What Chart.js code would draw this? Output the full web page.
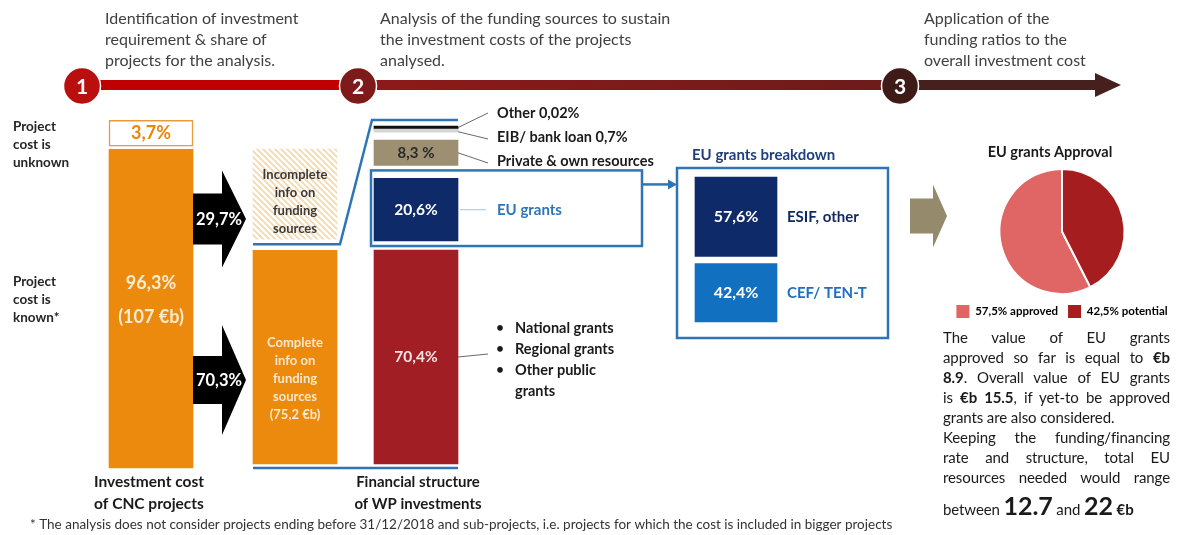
<!DOCTYPE html>
<html>
<head>
<title>CNC projects - investment cost and funding structure</title>
<script src="https://cdn.jsdelivr.net/npm/chart.js"></script>
<style>
    body { margin: 0; background: #fff; font-family: Lato, sans-serif; }
    #wrap { position: relative; width: 1178px; height: 535px; overflow: hidden; }
    #main { position: absolute; left: 0; top: 0; }
    #pie { position: absolute; left: 942px; top: 166px; }
    .note { position: absolute; left: 943px; top: 327px; width: 227px; font-size: 15px; line-height: 20px; color: #1a1a1a; letter-spacing: -0.1px; }
    .note span { display: block; white-space: nowrap; text-align: justify; text-align-last: justify; }
    .note span.end { text-align-last: left; }
    .note span.tight { word-spacing: -1.5px; }
    .note span.last { line-height: 30px; margin-top: 3px; }
    .big { font-size: 25px; font-weight: bold; }
</style>
</head>
<body>
<div id="wrap">
    <canvas id="main" width="1178" height="535"></canvas>
    <canvas id="pie" width="240" height="162"></canvas>
    <div class="note">
        <span>The value of EU grants</span>
        <span>approved so far is equal to <b>€b</b></span>
        <span><b>8.9</b>. Overall value of EU grants</span>
        <span class="tight">is <b>€b 15.5</b>, if yet-to be approved</span>
        <span class="end">grants are also considered.</span>
        <span>Keeping the funding/financing</span>
        <span>rate and structure, total EU</span>
        <span>resources needed would range</span>
        <span class="end last">between <span class="big" style="display:inline">12.7</span> and <span class="big" style="display:inline">22</span> <b>€b</b></span>
    </div>
</div>

<script>
    // shares in %
    const costStatus = ['Project cost is known', 'Project cost is unknown'];
    const costShare = [96.3, 3.7];
    const infoStatus = ['Complete info', 'Incomplete info'];
    const infoShare = [70.3, 29.7];
    const wpSources = ['Public grants', 'EU grants', 'Private & own resources', 'EIB/ bank loan', 'Other'];
    const wpShare = [70.4, 20.6, 8.3, 0.7, 0.02];
    const euSources = ['CEF/ TEN-T', 'ESIF, other'];
    const euShare = [42.4, 57.6];
    const approvalLabels = ['approved', 'potential'];
    const approvalShare = [57.5, 42.5];
    const knownCost = '107';   // €b
    const completeCost = '75,2'; // €b

    const H = 535;
    const pct = (v, sp = '') => String(v).replace('.', ',') + sp + '%';
    const F = (size, bold) => (bold ? 'bold ' : '') + size + 'px Lato, sans-serif';

    // column placement (layout only)
    const cols = {
        cost: { x: 151, width: 84, bottom: 468, top: 134, gap: [3] },
        info: { x: 295, width: 84, bottom: 464, top: 149, gap: [11] },
        wp:   { x: 416, width: 84, bottom: 464, top: 129, gap: [9, 13, 8, 1] },
        eu:   { x: 736, width: 82, bottom: 322, top: 177, gap: [7] }
    };

    function hatch() {
        const c = document.createElement('canvas');
        c.width = c.height = 6;
        const g = c.getContext('2d');
        g.fillStyle = '#fff';
        g.fillRect(0, 0, 6, 6);
        g.strokeStyle = '#f6d7ae';
        g.lineWidth = 1.7;
        g.beginPath();
        g.moveTo(-3, 3); g.lineTo(3, 9);
        g.moveTo(0, 0); g.lineTo(6, 6);
        g.moveTo(3, -3); g.lineTo(9, 3);
        g.stroke();
        return g.createPattern(c, 'repeat');
    }

    const datasets = [];
    const scales = { x: { type: 'linear', min: 0, max: 1178, display: false, offset: false } };
    const idx = {};

    // stack segments bottom-up with small white gaps, one hidden y axis per column
    function addColumn(key, names, values, styles) {
        const col = cols[key];
        const sum = values.reduce((a, b) => a + b, 0);
        const gapPx = col.gap.reduce((a, b) => a + b, 0);
        const s = (col.bottom - col.top - gapPx) / sum;
        scales['y' + key] = { axis: 'y', type: 'linear', display: false, min: -(H - col.bottom) / s, max: col.bottom / s };
        let lo = 0;
        values.forEach((v, i) => {
            const st = styles[i] || {};
            idx[names[i]] = datasets.length;
            datasets.push({
                label: names[i],
                data: [{ x: col.x, y: [lo, lo + v] }],
                yAxisID: 'y' + key,
                grouped: false,
                barThickness: col.width,
                backgroundColor: st.color,
                borderColor: st.border || st.color,
                borderWidth: st.border ? 1.5 : 0,
                borderSkipped: false,
                minBarLength: st.minLen || 0,
                inner: st.inner
            });
            lo += v + (col.gap[i] !== undefined ? col.gap[i] : col.gap[0]) / s;
        });
    }

    function build() {
        addColumn('cost', costStatus, costShare, [
            { color: '#eb8a0c', inner: { lines: [pct(costShare[0]), '(' + knownCost + ' €b)'], font: F(18, true), color: '#fdebd2', step: 34, dy: -8 } },
            { color: '#ffffff', border: '#eb9a3a', minLen: 26, inner: { lines: [pct(costShare[1])], font: F(18, true), color: '#e8870a', step: 0, dy: 0 } }
        ]);
        addColumn('info', infoStatus, infoShare, [
            { color: '#eb8a0c', inner: { lines: ['Complete', 'info on', 'funding', 'sources', '(' + completeCost + ' €b)'], font: F(13, true), color: '#fde8cf', step: 18, dy: 22 } },
            { color: hatch(), inner: { lines: ['Incomplete', 'info on', 'funding', 'sources'], font: F(13, true), color: '#3a3a3a', step: 18, dy: 8 } }
        ]);
        addColumn('wp', wpSources, wpShare, [
            { color: '#a11f24', inner: { lines: [pct(wpShare[0])], font: F(15.5, true), color: '#fbe3e3', step: 0, dy: 0 } },
            { color: '#0e2a68', inner: { lines: [pct(wpShare[1])], font: F(15.5, true), color: '#ffffff', step: 0, dy: 0 } },
            { color: '#9c8f72', inner: { lines: [pct(wpShare[2], ' ')], font: F(15, true), color: '#2a2a2a', step: 0, dy: 0 } },
            { color: '#d6d6d6', minLen: 3 },
            { color: '#111111', minLen: 3 }
        ]);
        addColumn('eu', euSources, euShare, [
            { color: '#1170c0', inner: { lines: [pct(euShare[0])], font: F(16, true), color: '#ffffff', step: 0, dy: 0 } },
            { color: '#0e2a68', inner: { lines: [pct(euShare[1])], font: F(16, true), color: '#ffffff', step: 0, dy: 0 } }
        ]);

        const txt = (ctx, s, x, y, font, color, align = 'left', maxW) => {
            ctx.font = font;
            ctx.fillStyle = color;
            ctx.textAlign = align;
            ctx.textBaseline = 'middle';
            if (maxW) ctx.fillText(s, x, y, maxW); else ctx.fillText(s, x, y);
        };

        const barLabels = {
            id: 'barLabels',
            afterDatasetsDraw(chart) {
                const ctx = chart.ctx;
                chart.data.datasets.forEach((ds, i) => {
                    if (!ds.inner) return;
                    const el = chart.getDatasetMeta(i).data[0];
                    const cy = (el.y + el.base) / 2 + ds.inner.dy;
                    const n = ds.inner.lines.length;
                    ds.inner.lines.forEach((l, k) => {
                        txt(ctx, l, el.x, cy + (k - (n - 1) / 2) * ds.inner.step, ds.inner.font, ds.inner.color, 'center');
                    });
                });
            }
        };

        const decor = {
            id: 'decor',
            afterDraw(chart) {
                const ctx = chart.ctx;
                const bar = name => chart.getDatasetMeta(idx[name]).data[0];
                const mid = el => (el.y + el.base) / 2;
                ctx.save();

                // timeline
                ctx.lineWidth = 10;
                const seg = (x0, x1, c) => { ctx.strokeStyle = c; ctx.beginPath(); ctx.moveTo(x0, 85); ctx.lineTo(x1, 85); ctx.stroke(); };
                seg(82, 357, '#c00000');
                const g = ctx.createLinearGradient(357, 0, 900, 0);
                g.addColorStop(0, '#8e1a1a');
                g.addColorStop(1, '#6c1b1b');
                seg(357, 900, g);
                seg(900, 1098, '#45201d');
                ctx.fillStyle = '#45201d';
                ctx.beginPath(); ctx.moveTo(1095, 73); ctx.lineTo(1121, 85); ctx.lineTo(1095, 97); ctx.closePath(); ctx.fill();
                [[82, '#b90f0f', '1'], [358, '#7d1a1a', '2'], [900, '#3f1b18', '3']].forEach(([cx, c, n]) => {
                    ctx.beginPath(); ctx.arc(cx, 86, 18.5, 0, Math.PI * 2);
                    ctx.fillStyle = c; ctx.fill();
                    ctx.lineWidth = 1.5; ctx.strokeStyle = '#fff'; ctx.stroke();
                    txt(ctx, n, cx, 87, F(21, true), '#fff', 'center');
                });
                const steps = [
                    [105, ['Identification of investment', 'requirement & share of', 'projects for the analysis.']],
                    [380, ['Analysis of the funding sources to sustain', 'the investment costs of the projects', 'analysed.']],
                    [924, ['Application of the', 'funding ratios to the', 'overall investment cost']]
                ];
                steps.forEach(([x, lines]) => lines.forEach((l, k) => txt(ctx, l, x, 19 + k * 21, F(16), '#404040')));

                // row labels
                ['Project', 'cost is', 'unknown'].forEach((l, k) => txt(ctx, l, 13, 127 + k * 18, F(13.5, true), '#262626'));
                ['Project', 'cost is', 'known*'].forEach((l, k) => txt(ctx, l, 13, 282 + k * 18, F(13.5, true), '#262626'));

                // block arrows
                const arrow = (x0, x1, xh, yc, sh, hh, c) => {
                    ctx.fillStyle = c;
                    ctx.beginPath();
                    ctx.moveTo(x0, yc - sh / 2); ctx.lineTo(xh, yc - sh / 2); ctx.lineTo(xh, yc - hh / 2);
                    ctx.lineTo(x1, yc); ctx.lineTo(xh, yc + hh / 2); ctx.lineTo(xh, yc + sh / 2);
                    ctx.lineTo(x0, yc + sh / 2); ctx.closePath(); ctx.fill();
                };
                arrow(193, 246, 222, 219, 51, 97, '#000');
                arrow(193, 246, 222, 380, 48, 110, '#000');
                txt(ctx, pct(infoShare[1]), 219, 220, F(16.5, true), '#fff', 'center');
                txt(ctx, pct(infoShare[0]), 219, 381, F(16.5, true), '#fff', 'center');
                arrow(910, 947, 933, 216, 35, 63, '#958a6c');

                // blue funnel towards the WP bar
                const inc = bar('Incomplete info'), com = bar('Complete info');
                const nat = bar('Public grants'), top = bar('Other');
                const wl = nat.x - nat.width / 2, wr = nat.x + nat.width / 2;
                ctx.strokeStyle = '#2e75b6';
                ctx.lineWidth = 2.5;
                ctx.beginPath();
                ctx.moveTo(inc.x - inc.width / 2, inc.base + 5);
                ctx.lineTo(inc.x + inc.width / 2 + 3, inc.base + 5);
                ctx.lineTo(wl - 2, top.y - 6);
                ctx.lineTo(wr, top.y - 6);
                ctx.stroke();
                ctx.beginPath();
                ctx.moveTo(com.x - com.width / 2, com.base + 4);
                ctx.lineTo(wr, com.base + 4);
                ctx.stroke();

                // EU grants frame and link to breakdown
                const eub = bar('EU grants');
                const fy0 = eub.y - 8, fy1 = eub.base + 5;
                ctx.strokeRect(wl - 3, fy0, 642 - (wl - 3), fy1 - fy0);
                ctx.beginPath(); ctx.moveTo(642, fy0 + 14); ctx.lineTo(670, fy0 + 14); ctx.stroke();
                ctx.fillStyle = '#2e75b6';
                ctx.beginPath(); ctx.moveTo(668, fy0 + 9); ctx.lineTo(677, fy0 + 14); ctx.lineTo(668, fy0 + 19); ctx.closePath(); ctx.fill();
                ctx.strokeStyle = '#9dc3e6'; ctx.lineWidth = 1;
                ctx.beginPath(); ctx.moveTo(wr + 2, mid(eub)); ctx.lineTo(486, mid(eub)); ctx.stroke();
                txt(ctx, 'EU grants', 497, mid(eub), F(15, true), '#2e75b6');

                // WP leaders and labels
                ctx.strokeStyle = '#444'; ctx.lineWidth = 0.8;
                const lead = (y0, y1) => { ctx.beginPath(); ctx.moveTo(wr, y0); ctx.lineTo(488, y1); ctx.stroke(); };
                lead(mid(top), 113);
                lead(mid(bar('EIB/ bank loan')) + 1, 139);
                lead(mid(bar('Private & own resources')), 163);
                lead(mid(nat), mid(nat) - 3);
                txt(ctx, 'Other ' + pct(wpShare[4]), 497, 113, F(14.5, true), '#1a1a1a');
                txt(ctx, 'EIB/ bank loan ' + pct(wpShare[3]), 497, 137, F(14.5, true), '#1a1a1a');
                txt(ctx, 'Private & own resources', 497, 161, F(14.5, true), '#1a1a1a');
                [['National grants', 1], ['Regional grants', 1], ['Other public', 1], ['grants', 0]].forEach(([l, b], k) => {
                    const y = 328 + k * 21;
                    if (b) txt(ctx, '•', 500, y, F(13, true), '#1a1a1a', 'center');
                    txt(ctx, l, 515, y, F(14.5, true), '#1a1a1a');
                });

                // EU grants breakdown box
                const esif = bar('ESIF, other'), cef = bar('CEF/ TEN-T');
                const by0 = esif.y - 9, by1 = cef.base + 16;
                ctx.strokeStyle = '#2e75b6'; ctx.lineWidth = 2.5;
                ctx.strokeRect(677, by0, 888 - 677, by1 - by0);
                txt(ctx, 'EU grants breakdown', 692, by0 - 13, F(15, true), '#1f3f7f');
                txt(ctx, 'ESIF, other', 787, mid(esif), F(15, true), '#13285e');
                txt(ctx, 'CEF/ TEN-T', 787, mid(cef), F(15, true), '#1f6fc0');

                // titles and footnote
                txt(ctx, 'EU grants Approval', 1050, 152, F(14.5, true), '#1a1a1a', 'center');
                txt(ctx, 'Investment cost', 149, 482, F(15.5, true), '#1a1a1a', 'center');
                txt(ctx, 'of CNC projects', 149, 504, F(15.5, true), '#1a1a1a', 'center');
                txt(ctx, 'Financial structure', 418, 482, F(15, true), '#1a1a1a', 'center');
                txt(ctx, 'of WP investments', 418, 504, F(15, true), '#1a1a1a', 'center');
                txt(ctx, '* The analysis does not consider projects ending before 31/12/2018 and sub-projects, i.e. projects for which the cost is included in bigger projects',
                    30, 525, F(13.5), '#333', 'left', 880);
                ctx.restore();
            }
        };

        new Chart(document.getElementById('main'), {
            type: 'bar',
            data: { datasets: datasets },
            options: {
                responsive: false,
                animation: false,
                events: [],
                layout: { padding: 0 },
                plugins: { legend: { display: false }, tooltip: { enabled: false } },
                scales: scales
            },
            plugins: [barLabels, decor]
        });

        const pieColors = ['#e06565', '#a51d1e'];
        new Chart(document.getElementById('pie'), {
            type: 'pie',
            data: {
                labels: approvalLabels,
                datasets: [{ data: approvalShare, backgroundColor: pieColors, borderColor: '#fff', borderWidth: 2 }]
            },
            options: {
                responsive: false,
                animation: false,
                events: [],
                rotation: approvalShare[1] / 100 * 360,
                layout: { padding: { top: 2 } },
                plugins: {
                    tooltip: { enabled: false },
                    legend: {
                        position: 'bottom',
                        labels: {
                            boxWidth: 13,
                            boxHeight: 13,
                            padding: 10,
                            color: '#333',
                            font: { family: 'Lato', size: 11.5, weight: 'bold' },
                            generateLabels: () => approvalLabels.map((l, i) => ({
                                text: pct(approvalShare[i]) + ' ' + l,
                                fillStyle: pieColors[i],
                                strokeStyle: pieColors[i],
                                lineWidth: 0,
                                hidden: false,
                                index: i
                            }))
                        }
                    }
                }
            }
        });
    }

    Promise.all([document.fonts.load(F(15)), document.fonts.load(F(15, true))]).then(build, build);
</script>
</body>
</html>
